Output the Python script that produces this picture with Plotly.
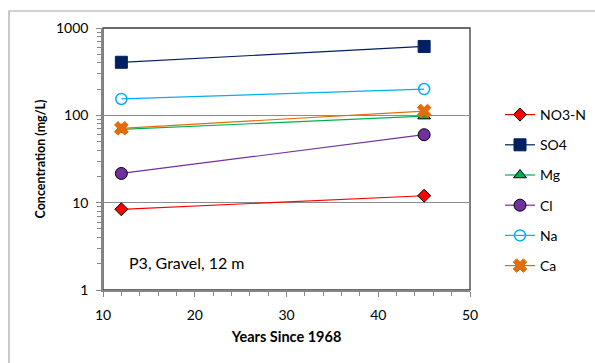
import plotly.graph_objects as go

# Sampling years (years since 1968)
years = [12, 45]

# Concentrations (mg/L)
no3n = [8.4, 12.0]
so4 = [405, 615]
mg = [69, 98]
cl = [21.6, 60]
na = [154, 200]
ca = [71, 112]

series = [
    ("NO3-N", no3n, "#FF0000", "diamond", "#FF0000", "#000000", 10),
    ("SO4", so4, "#002060", "square", "#002060", "#002060", 12),
    ("Mg", mg, "#00B050", "triangle-up", "#00B050", "#000000", 11),
    ("Cl", cl, "#7030A0", "circle", "#7030A0", "#000000", 12),
    ("Na", na, "#00B0F0", "circle-open", "#00B0F0", "#00B0F0", 11),
    ("Ca", ca, "#E46C0A", "x", "#E46C0A", "#E46C0A", 12),
]

FONT = "Lato, 'Open Sans', sans-serif"
AXIS_GREY = "#868686"

fig = go.Figure()
for name, vals, col, sym, fill, edge, size in series:
    fig.add_trace(go.Scatter(
        x=years, y=vals, name=name, mode="lines+markers",
        legendgroup=name,
        line=dict(color=col, width=1.2),
        marker=dict(symbol=sym, size=size, color=fill,
                    line=dict(color=edge, width=1.5 if sym == "circle-open" else 1)),
    ))

fig.update_layout(
    width=595, height=363,
    margin=dict(l=103, r=125, t=28, b=73, autoexpand=False),
    paper_bgcolor="white", plot_bgcolor="white",
    font=dict(family=FONT, size=14, color="#000000"),
    showlegend=True,
    legend=dict(x=(500 - 103) / 367, xanchor="left", y=(290 - 99) / 262, yanchor="top",
                tracegroupgap=9, font=dict(size=14), bgcolor="rgba(0,0,0,0)"),
    xaxis=dict(
        range=[10, 50], dtick=10, tick0=10,
        showline=True, linecolor=AXIS_GREY, linewidth=1.5,
        ticks="outside", ticklen=5, tickcolor=AXIS_GREY, tickwidth=1,
        minor=dict(dtick=2, tick0=10, ticks="outside", ticklen=4,
                   tickcolor=AXIS_GREY, tickwidth=1, showgrid=False),
        showgrid=False, zeroline=False,
        ticklabelstandoff=6,
        title=dict(text="<b>Years Since 1968</b>", font=dict(size=14.5), standoff=10),
        tickfont=dict(size=14),
    ),
    yaxis=dict(
        type="log", range=[0, 3], dtick=1,
        showline=True, linecolor=AXIS_GREY, linewidth=1.5,
        ticks="outside", ticklen=5, tickcolor=AXIS_GREY, tickwidth=1,
        minor=dict(dtick="D1", ticks="outside", ticklen=4,
                   tickcolor=AXIS_GREY, tickwidth=1, showgrid=False),
        showgrid=True, gridcolor="#8C8C8C", gridwidth=1,
        zeroline=False,
        ticklabelstandoff=5,
        title=dict(text="<b>Concentration (mg/L)</b>", font=dict(size=12.5), standoff=8),
        tickfont=dict(size=14),
    ),
    shapes=[
        # plot-area frame
        dict(type="rect", xref="paper", yref="paper", x0=0, y0=0, x1=1, y1=1,
             line=dict(color="#3A3A3A", width=1.3), layer="below"),
        # chart-area border
        dict(type="rect", xref="paper", yref="paper",
             x0=(9 - 103) / 367, x1=(610 - 103) / 367,
             y0=(290 - 380) / 262, y1=(290 - 11) / 262,
             line=dict(color="#A6A6A6", width=1.2), layer="below"),
    ],
    annotations=[
        dict(text="P3, Gravel, 12 m", x=12.6, y=0.31, xref="x", yref="y",
             xanchor="left", yanchor="middle", showarrow=False,
             font=dict(size=16)),
    ],
)

fig.write_html("out.html")
